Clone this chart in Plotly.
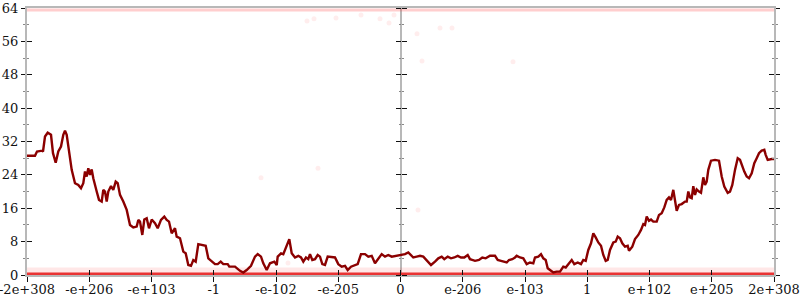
import plotly.graph_objects as go

# x positions are ordinal (flonum-order) units: -373.5 .. 373.5, 12 equal tick steps
tick_pos = [-373.5, -311.25, -249.0, -186.75, -124.5, -62.25, 0.0,
            62.25, 124.5, 186.75, 249.0, 311.25, 373.5]
tick_text = ["-2e+308", "-e+206", "-e+103", "-1", "-e-102", "-e-205", "0",
             "e-206", "e-103", "1", "e+102", "e+205", "2e+308"]
y_major = [0, 8, 16, 24, 32, 40, 48, 56, 64]
y_minor = [4, 12, 20, 28, 36, 44, 52, 60]

err_x = [
    -373.5, -365.5, -363.5, -358.5, -357.5, -355.5, -352.8, -349.5, -347.5, -344.8,
    -342.2, -339.5, -337.2, -335.5, -333.8, -332.2, -328.8, -325.5, -322.2, -319.5,
    -317.2, -315.5, -313.8, -312.2, -310.5, -308.8, -307.2, -303.8, -301.5, -298.8,
    -297.2, -295.5, -293.8, -292.2, -289.5, -287.2, -284.8, -282.8, -280.5, -277.2,
    -273.8, -270.5, -267.2, -263.8, -262.2, -260.5, -258.2, -256.2, -253.8, -251.5,
    -248.8, -245.5, -242.8, -239.5, -236.2, -233.8, -231.5, -228.8, -225.5,
    -223.8, -220.5, -217.2, -214.8, -212.2, -209.5, -207.2, -204.8, -202.2, -198.8,
    -194.8, -192.2, -188.8, -185.5, -182.8, -179.8, -177.2, -172.8, -171.2, -165.5,
    -160.5, -157.2, -153.8, -149.5, -145.5, -142.8, -139.5, -137.2, -133.8, -130.5,
    -126.2, -123.8, -122.8, -119.5, -117.2, -113.8, -111.2, -108.8, -105.5, -102.2,
    -99.5, -97.2, -94.5, -92.2, -90.5, -88.2, -85.5, -82.8, -80.5, -78.2, -75.5,
    -72.8, -65.5, -62.2, -58.8, -55.5, -52.8, -49.5, -45.5, -42.8, -39.5,
    -35.5, -32.2, -28.8, -25.5, -22.2, -18.8, -15.5, -12.2, -8.8, -3.8,
    1.2, 4.5, 7.8, 10.5, 12.8, 16.2, 19.5, 22.8, 26.2, 30.5,
    34.5, 37.8, 41.2, 43.8, 47.2, 50.5, 53.8, 57.2, 60.5, 63.8,
    67.2, 69.5, 71.8, 74.5,
    78.5, 81.8, 85.2, 89.5, 94.5, 97.2, 100.5, 102.8, 106.2, 108.5,
    111.8, 114.5, 116.2, 119.5, 122.8, 126.2, 129.5, 132.8, 134.5, 137.8,
    140.5, 142.8, 145.2, 147.2, 150.5, 152.8, 156.2, 159.5, 162.8, 165.2,
    167.8, 171.2, 173.8, 177.2, 180.5, 182.8, 185.2, 187.8, 190.5, 192.8,
    195.2, 197.8, 200.5, 202.8, 205.2, 207.2, 209.5, 212.8, 215.2, 217.2,
    219.5, 221.8, 224.5,
    227.2, 228.5, 231.8, 234.5, 237.8, 240.5, 242.8, 244.5, 246.2, 248.5,
    250.5, 252.8, 256.2, 258.5, 261.2, 263.8, 266.2, 268.5, 270.5, 272.8,
    274.5, 276.2, 278.5, 281.2, 284.5, 286.2, 287.8, 289.5, 291.2, 292.8,
    294.5, 296.2, 298.5, 300.5, 302.8, 304.5, 306.2, 307.8, 310.5, 314.5,
    318.5, 321.2, 323.8, 327.2, 329.5, 331.8, 334.5, 337.2, 339.5, 341.8,
    343.8, 346.2, 348.5, 351.2, 353.8, 356.2, 358.5, 361.2, 363.8, 365.2,
    367.2, 371.2, 373.5,
]
err_y = [
    28.6, 28.6, 29.6, 29.8, 29.6, 33.2, 34.1, 33.6, 29.2, 26.9,
    29.6, 30.8, 33.6, 34.6, 33.6, 30.8, 25.2, 22.0, 21.6, 20.8,
    22.0, 24.8, 23.6, 25.6, 24.0, 25.3, 23.2, 20.0, 18.0, 17.6,
    20.4, 20.0, 17.6, 20.0, 21.3, 20.4, 22.4, 22.0, 19.2, 17.6,
    15.6, 12.0, 11.4, 11.6, 13.2, 12.8, 9.6, 13.3, 13.6, 11.2,
    13.3, 12.4, 11.2, 13.2, 14.0, 13.2, 12.8, 10.0, 11.2,
    9.2, 8.8, 5.6, 5.2, 2.4, 2.2, 3.6, 3.2, 7.4, 7.2,
    7.0, 4.0, 3.2, 2.6, 2.6, 3.2, 2.6, 2.6, 2.0, 2.0,
    1.0, 0.6, 1.2, 2.2, 4.4, 5.0, 4.4, 2.8, 1.2, 2.8,
    3.2, 2.4, 4.4, 5.2, 5.0, 6.8, 8.6, 5.2, 4.2, 4.6,
    4.2, 3.2, 4.2, 3.8, 5.0, 3.6, 3.8, 4.8, 4.4, 2.6, 2.4,
    4.4, 4.2, 2.6, 2.0, 2.2, 1.2, 2.0, 2.4, 2.6, 5.0,
    5.0, 4.4, 4.6, 2.8, 3.8, 5.0, 4.4, 4.8, 4.4, 4.6,
    4.8, 5.0, 5.4, 4.8, 4.2, 4.4, 4.6, 4.4, 3.6, 2.4,
    3.2, 4.0, 4.4, 3.8, 4.4, 4.0, 4.2, 4.6, 4.2, 4.2,
    4.8, 3.8, 3.6, 3.4,
    3.6, 4.2, 4.0, 4.6, 4.6, 3.6, 3.4, 3.2, 3.0, 3.6,
    3.8, 4.2, 4.6, 4.2, 4.0, 2.6, 3.0, 2.8, 4.2, 4.4,
    5.0, 4.0, 3.6, 1.6, 1.0, 0.6, 0.8, 0.8, 2.0, 1.8,
    2.6, 3.6, 2.6, 3.0, 2.6, 3.6, 3.4, 6.0, 7.6, 10.0,
    9.0, 7.8, 7.0, 4.8, 3.4, 3.6, 6.0, 7.8, 8.0, 9.2,
    8.8, 7.6, 6.8,
    7.0, 5.8, 6.8, 8.6, 9.6, 10.8, 12.2, 12.0, 14.0, 13.0,
    13.3, 12.8, 12.8, 14.4, 14.8, 16.2, 18.0, 18.6, 18.0, 20.4,
    18.0, 15.4, 16.8, 17.0, 17.6, 17.6, 20.0, 18.6, 18.4, 21.3,
    19.2, 20.5, 20.0, 19.7, 23.4, 21.6, 22.4, 25.2, 27.4, 27.6,
    27.4, 23.6, 21.2, 19.7, 20.0, 21.6, 25.2, 28.0, 27.6, 26.0,
    24.8, 23.6, 23.2, 24.4, 26.8, 28.0, 29.2, 29.8, 30.0, 28.8,
    27.6, 27.8, 27.8,
]
assert len(err_x) == len(err_y), (len(err_x), len(err_y))

# sparse individual error samples (faint points)
pt_x = [-93.5, -86.5, -64.5, -39.5, -20.5, -11.5, -6.5, 16.5, 21.5, 39.5, 51.5,
        17.5, -139.5, -82.5, -112.5, 112.5]
pt_y = [60.9, 61.4, 61.6, 62.3, 61.4, 60.4, 62.3, 57.8, 51.3, 59.2, 59.2,
        15.6, 23.3, 25.6, 2.9, 51.1]
# dense clouds of samples at 0 and 64 bits
band_x = [-373.5, 373.5]
band_low = [0.25, 0.25]
band_low_haze = [1.1, 1.1]
band_high = [63.55, 63.55]

fig = go.Figure()
fig.add_trace(go.Scatter(x=band_x, y=band_low_haze, mode="lines",
                         line=dict(color="rgba(255,60,60,0.12)", width=6),
                         hoverinfo="skip", showlegend=False))
fig.add_trace(go.Scatter(x=band_x, y=band_high, mode="lines",
                         line=dict(color="rgba(255,60,60,0.25)", width=3),
                         hoverinfo="skip", showlegend=False))
fig.add_trace(go.Scatter(x=band_x, y=band_low, mode="lines",
                         line=dict(color="rgba(232,40,40,0.95)", width=3),
                         hoverinfo="skip", showlegend=False))
fig.add_trace(go.Scatter(x=pt_x, y=pt_y, mode="markers",
                         marker=dict(color="rgba(255,0,0,0.07)", size=5),
                         hoverinfo="skip", showlegend=False))
fig.add_trace(go.Scatter(x=err_x, y=err_y, mode="lines",
                         line=dict(color="#8b0000", width=2.4),
                         hoverinfo="skip", showlegend=False))
# empty helper traces so that overlay axes are drawn
for xa, ya in [("x2", "y"), ("x", "y2"), ("x", "y3"), ("x", "y4")]:
    fig.add_trace(go.Scatter(x=[None], y=[None], xaxis=xa, yaxis=ya,
                             showlegend=False, hoverinfo="skip"))

axis_gray = "#b8b8b8"
font = dict(family="'DejaVu Serif', 'Liberation Serif', serif", size=13, color="#111")
xr = [-373.5, 373.5]
yr = [0, 64]

fig.update_layout(
    width=800, height=300,
    margin=dict(l=27, r=26, t=8, b=25, autoexpand=False),
    paper_bgcolor="white", plot_bgcolor="white",
    font=font, showlegend=False,
    xaxis=dict(range=xr, tickmode="array", tickvals=tick_pos, ticktext=tick_text,
               ticks="outside", ticklen=5, tickwidth=1, tickcolor="#111",
               ticklabeloverflow="allow", ticklabelstandoff=-4,
               showline=True, linecolor=axis_gray, linewidth=2, mirror=True,
               showgrid=False, zeroline=True, zerolinecolor=axis_gray, zerolinewidth=2,
               automargin=False, fixedrange=True),
    xaxis2=dict(range=xr, overlaying="x", anchor="y", side="bottom",
                tickmode="array", tickvals=tick_pos, ticks="inside", ticklen=5,
                tickcolor="#111", showticklabels=False, showline=False,
                showgrid=False, zeroline=False, automargin=False),
    yaxis=dict(range=yr, tickmode="array", tickvals=y_major,
               ticks="outside", ticklen=4, tickcolor="#111",
               ticklabeloverflow="allow",
               minor=dict(tickvals=y_minor, ticks="outside", ticklen=2,
                          tickcolor="#888", showgrid=False),
               showline=True, linecolor=axis_gray, linewidth=2, mirror="ticks",
               showgrid=False, zeroline=False, automargin=False, fixedrange=True),
    yaxis2=dict(range=yr, overlaying="y", anchor="x", side="left",
                tickmode="array", tickvals=y_major, ticks="inside", ticklen=5,
                tickcolor="#111",
                minor=dict(tickvals=y_minor, ticks="inside", ticklen=2,
                           tickcolor="#888", showgrid=False),
                mirror="ticks", showline=False, automargin=False,
                showticklabels=False, showgrid=False, zeroline=False),
    yaxis3=dict(range=yr, overlaying="y", anchor="free", position=0.5, side="left",
                tickmode="array", tickvals=y_major, ticks="outside", ticklen=5,
                tickcolor="#111",
                minor=dict(tickvals=y_minor, ticks="outside", ticklen=2,
                           tickcolor="#888", showgrid=False),
                showline=False, showticklabels=False, showgrid=False, zeroline=False,
                automargin=False),
    yaxis4=dict(range=yr, overlaying="y", anchor="free", position=0.5, side="right",
                tickmode="array", tickvals=y_major, ticks="outside", ticklen=5,
                tickcolor="#111",
                minor=dict(tickvals=y_minor, ticks="outside", ticklen=2,
                           tickcolor="#888", showgrid=False),
                showline=False, showticklabels=False, showgrid=False, zeroline=False,
                automargin=False),
)

fig.write_html("out.html")
